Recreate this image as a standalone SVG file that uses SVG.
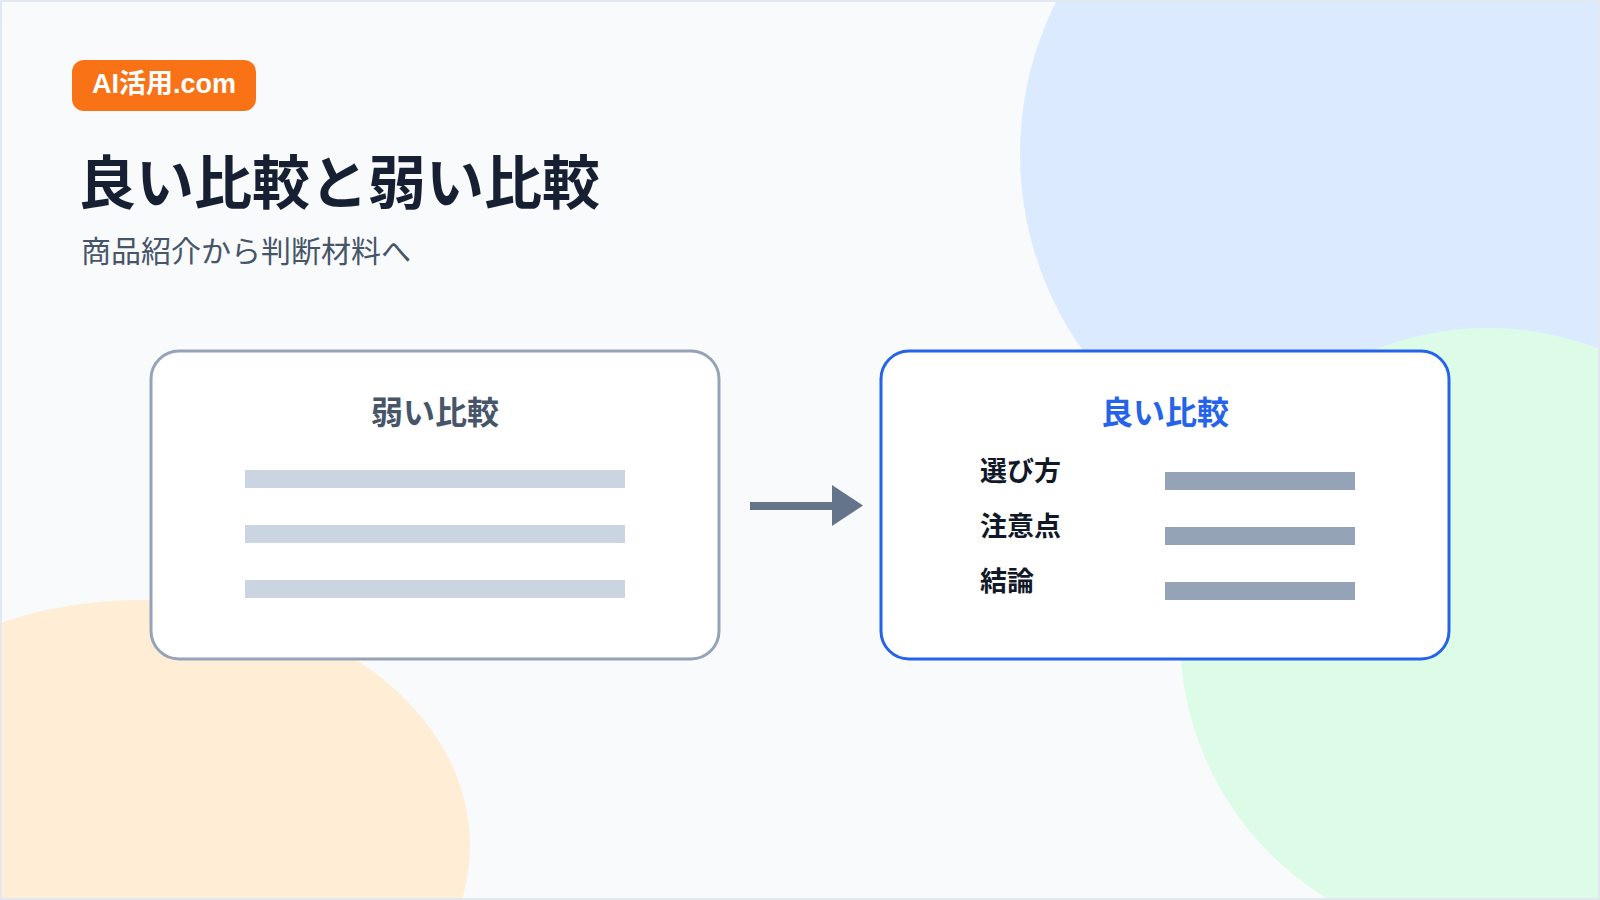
<svg xmlns="http://www.w3.org/2000/svg" width="1600" height="900" viewBox="0 0 1600 900">
  <defs>
    <style>
      .jp { font-family: "Noto Sans CJK JP", "Noto Sans", sans-serif; }
      .badge-text { font-family: "Liberation Sans", "Noto Sans CJK JP", sans-serif; font-weight: 700; font-size: 27px; fill: #ffffff; }
      .title { font-size: 58px; font-weight: 700; fill: #172033; }
      .subtitle { font-size: 30px; font-weight: 400; fill: #475569; }
      .box { fill: #ffffff; stroke-width: 3; }
      .box-weak { stroke: #94a3b8; }
      .box-good { stroke: #2563eb; }
      .box-title { font-size: 32px; font-weight: 700; text-anchor: middle; }
      .label { font-size: 27px; font-weight: 700; fill: #111827; }
      .bar-weak { fill: #cbd5e1; }
      .bar-good { fill: #94a3b8; }
      .arrow { fill: #64748b; }
    </style>
  </defs>

  <!-- background -->
  <rect x="0" y="0" width="1600" height="900" fill="#f8fafc"/>
  <circle cx="1359" cy="154" r="339" fill="#dbeafe"/>
  <circle cx="1488" cy="636" r="308" fill="#dcfce7"/>
  <ellipse cx="140" cy="845" rx="330" ry="245" fill="#ffedd5"/>
  <rect x="1" y="1" width="1598" height="898" fill="none" stroke="#e2e8f0" stroke-width="2"/>

  <!-- header -->
  <g id="badge">
    <rect x="72" y="60" width="184" height="51" rx="12" fill="#f97316"/>
    <text class="badge-text" x="164" y="93" text-anchor="middle">AI活用.com</text>
  </g>
  <g id="heading">
    <text class="jp title" x="78" y="204">良い比較と弱い比較</text>
    <text class="jp subtitle" x="81" y="262">商品紹介から判断材料へ</text>
  </g>

  <!-- weak comparison node -->
  <g id="weak-comparison">
    <rect class="box box-weak" x="151" y="351" width="568" height="308" rx="28"/>
    <text class="jp box-title" x="435" y="424" fill="#475569">弱い比較</text>
    <rect class="bar-weak" x="245" y="470" width="380" height="18"/>
    <rect class="bar-weak" x="245" y="525" width="380" height="18"/>
    <rect class="bar-weak" x="245" y="580" width="380" height="18"/>
  </g>

  <!-- good comparison node -->
  <g id="good-comparison">
    <rect class="box box-good" x="881" y="351" width="568" height="308" rx="28"/>
    <text class="jp box-title" x="1165" y="424" fill="#2563eb">良い比較</text>
    <text class="jp label" x="980" y="481">選び方</text>
    <text class="jp label" x="980" y="536">注意点</text>
    <text class="jp label" x="980" y="591">結論</text>
    <rect class="bar-good" x="1165" y="472" width="190" height="18"/>
    <rect class="bar-good" x="1165" y="527" width="190" height="18"/>
    <rect class="bar-good" x="1165" y="582" width="190" height="18"/>
  </g>

  <!-- connectors -->
  <g id="connectors">
    <rect class="arrow" x="750" y="502" width="84" height="8"/>
    <polygon class="arrow" points="832,485 863,505.5 832,526"/>
  </g>
</svg>
